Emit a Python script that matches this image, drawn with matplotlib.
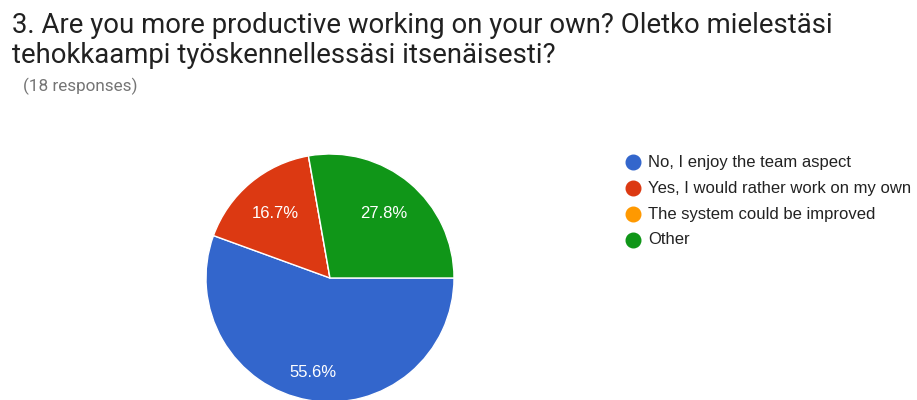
import matplotlib
matplotlib.use("Agg")
import matplotlib.pyplot as plt
from matplotlib.lines import Line2D
import numpy as np

# Survey answers (18 responses)
categories = [
    "No, I enjoy the team aspect",
    "Yes, I would rather work on my own",
    "The system could be improved",
    "Other",
]
counts = [10, 3, 0, 5]
colors = ["#3366CC", "#DC3912", "#FF9900", "#109618"]

title_lines = ["3. Are you more productive working on your own? Oletko mielestäsi",
               "tehokkaampi työskennellessäsi itsenäisesti?"]
subtitle_text = "(18 responses)"

W, H = 917, 400
fig = plt.figure(figsize=(W / 100, H / 100), dpi=100)
fig.patch.set_facecolor("white")

TITLE_FONT = ["Roboto", "DejaVu Sans"]
CHART_FONT = ["Liberation Sans", "DejaVu Sans"]


def fx(px):
    return px / W


def fy(py):
    return 1 - py / H


# Title and response count
for line, base in zip(title_lines, [33, 63]):
    fig.text(fx(12), fy(base), line, fontsize=19.8, family=TITLE_FONT,
             color="#212121", va="baseline", ha="left")
fig.text(fx(23), fy(91), subtitle_text, fontsize=12.3, family=TITLE_FONT,
         color="#757575", va="baseline", ha="left")

# Pie
cx, cy, r = 330, 278, 124
ax = fig.add_axes([(cx - r) / W, (H - cy - r) / H, 2 * r / W, 2 * r / H])


def pct_label(p):
    return f"{p:.1f}%" if p > 0.05 else ""


wedges, texts, autotexts = ax.pie(
    counts, colors=colors, startangle=0, counterclock=False,
    autopct=pct_label, pctdistance=0.7,
    wedgeprops=dict(edgecolor="white", linewidth=1.0),
    textprops=dict(color="white", fontsize=12, family=CHART_FONT),
)
# Push the label of the largest slice a little further out
for w, t in zip(wedges, autotexts):
    w.set_clip_on(False)
    frac = (w.theta2 - w.theta1) / 360
    d = 0.77 if frac > 0.5 else 0.68
    ang = np.deg2rad((w.theta1 + w.theta2) / 2)
    t.set_position((d * np.cos(ang), d * np.sin(ang)))
ax.set_xlim(-1, 1)
ax.set_ylim(-1, 1)
ax.set_aspect("equal")
ax.axis("off")

# Legend with round markers
lx, ly0, dy = 633, 162, 26
for i, (lab, col) in enumerate(zip(categories, colors)):
    y = fy(ly0 + i * dy)
    fig.add_artist(Line2D([fx(lx)], [y], marker="o", markersize=10.5,
                          color=col, linestyle="none",
                          transform=fig.transFigure))
    fig.text(fx(lx + 15), y, lab, fontsize=12, family=CHART_FONT,
             color="#222222", va="center", ha="left")

fig.savefig("out.png", dpi=100, facecolor="white")
